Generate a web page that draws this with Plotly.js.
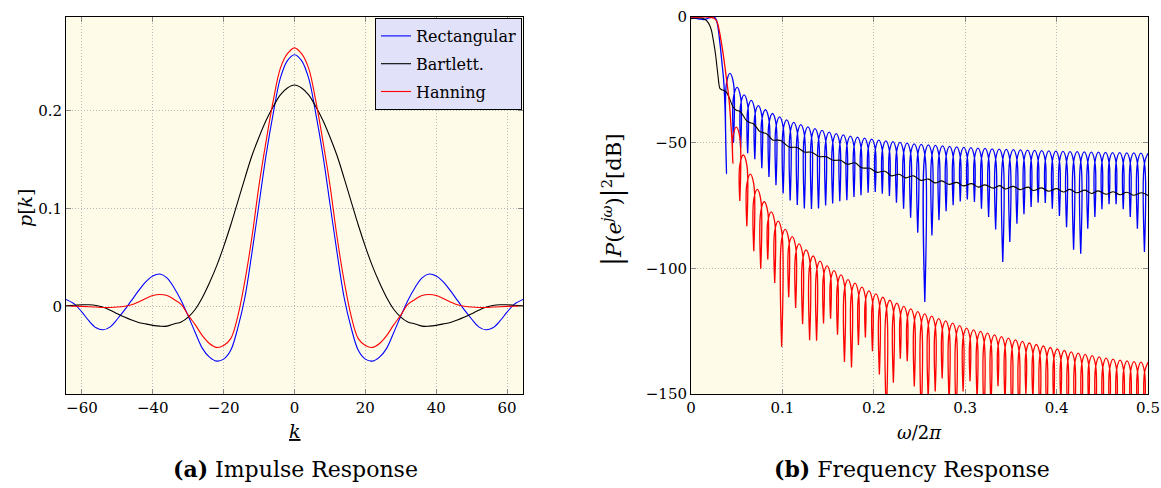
<!DOCTYPE html>
<html><head><meta charset="utf-8">
<script src="https://cdn.plot.ly/plotly-3.0.1.min.js"></script>
<style>html,body{margin:0;padding:0;background:#fff}</style>
</head><body><div id="chart" style="width:1161px;height:488px"></div>
<script>
// ---------- (a) impulse response ----------
const kVals = [-64.5,-62,-60,-58,-56,-54,-52,-50,-48,-46,-44,-42,-40,-38,-36,-34,-32,-30,-28,-26,-24,-22,-20,-18,-16,-14,-12,-10,-8,-6,-4,-2,0,2,4,6,8,10,12,14,16,18,20,22,24,26,28,30,32,34,36,38,40,42,44,46,48,50,52,54,56,58,60,62,64.5];
const rectP = [0.007,0.002,-0.006,-0.015,-0.022,-0.024,-0.021,-0.013,-0.004,0.006,0.016,0.025,0.031,0.033,0.029,0.019,0.006,-0.010,-0.027,-0.043,-0.052,-0.056,-0.054,-0.045,-0.022,0.009,0.055,0.105,0.155,0.197,0.233,0.251,
  0.257,0.251,0.233,0.197,0.155,0.105,0.055,0.009,-0.022,-0.045,-0.054,-0.056,-0.052,-0.043,-0.027,-0.010,0.006,0.019,0.029,0.033,0.031,0.025,0.016,0.006,-0.004,-0.013,-0.021,-0.024,-0.022,-0.015,-0.006,0.002,0.007];
const bartP = [0.0005,0.0011,0.0015,0.0015,0.0008,-0.001,-0.004,-0.0076,-0.011,-0.014,-0.0165,-0.018,-0.0195,-0.0203,-0.0203,-0.018,-0.016,-0.011,-0.003,0.009,0.024,0.041,0.061,0.083,0.107,0.131,0.154,0.173,0.190,0.204,0.216,0.223,
  0.226,0.223,0.216,0.204,0.190,0.173,0.154,0.131,0.107,0.083,0.061,0.041,0.024,0.009,-0.003,-0.011,-0.016,-0.018,-0.0203,-0.0203,-0.0195,-0.018,-0.0165,-0.014,-0.011,-0.0076,-0.004,-0.001,0.0008,0.0015,0.0015,0.0011,0.0005];
const hannP = [0.0,0.0,-0.0001,-0.0004,-0.0008,-0.0012,-0.0012,-0.0008,0.0,0.0015,0.0045,0.008,0.011,0.012,0.011,0.007,0.002,-0.009,-0.019,-0.030,-0.038,-0.042,-0.040,-0.033,-0.010,0.026,0.071,0.124,0.169,0.210,0.243,0.258,
  0.264,0.258,0.243,0.210,0.169,0.124,0.071,0.026,-0.010,-0.033,-0.040,-0.042,-0.038,-0.030,-0.019,-0.009,0.002,0.007,0.011,0.012,0.011,0.008,0.0045,0.0015,0.0,-0.0008,-0.0012,-0.0012,-0.0008,-0.0004,-0.0001,0.0,0.0];
const seriesNames = ['Rectangular','Bartlett.','Hanning'];

// ---------- (b) frequency response (dB) ----------
const rectPassW  = [0,0.004,0.009,0.014,0.018,0.022,0.025,0.027,0.0288,0.0317,0.0343,0.0357,0.0372];
const rectPassDb = [-0.5,-0.4,-0.8,-1.0,-0.6,-0.1,0.0,-0.6,-2.5,-10.5,-19.8,-25.0,-36.0];
const rectNullW = [0.0388,0.0465,0.0543,0.0620,0.0698,0.0775,0.0853,0.0930,0.1008,0.1085,
  0.1163,0.1240,0.1318,0.1395,0.1473,0.1550,0.1628,0.1705,0.1783,0.1860,
  0.1938,0.2016,0.2093,0.2171,0.2248,0.2326,0.2403,0.2481,0.2558,0.2636,
  0.2713,0.2791,0.2868,0.2946,0.3023,0.3101,0.3178,0.3256,0.3333,0.3411,
  0.3488,0.3566,0.3643,0.3721,0.3798,0.3876,0.3953,0.4031,0.4109,0.4186,
  0.4264,0.4341,0.4419,0.4496,0.4574,0.4651,0.4729,0.4806,0.4884,0.4961];
const rectNullDb = [-62.3,-50.0,-52.1,-54.2,-56.6,-60.2,-63.6,-66.9,-70.2,-73.0,
  -74.8,-76.2,-76.4,-76.2,-75.0,-74.2,-73.3,-72.9,-71.6,-70.9,
  -69.9,-69.6,-70.3,-71.2,-73.9,-76.3,-79.9,-85.8,-113.4,-86.9,
  -80.9,-77.3,-74.9,-73.4,-72.6,-73.6,-76.3,-79.6,-84.5,-97.5,
  -89.5,-82.2,-78.5,-75.6,-73.9,-74.0,-76.3,-79.2,-83.6,-92.6,
  -94.2,-84.2,-79.6,-76.5,-74.5,-74.5,-76.5,-79.6,-84.2,-93.5];
const rectPeakDb = [-22.4,-28.0,-31.0,-33.2,-35.3,-36.9,-38.4,-39.7,-40.9,-41.9,
  -42.8,-43.7,-44.4,-45.1,-45.8,-46.4,-46.9,-47.4,-47.8,-48.2,
  -48.6,-49.0,-49.3,-49.6,-49.9,-50.2,-50.5,-50.7,-50.9,-51.1,
  -51.3,-51.5,-51.7,-51.9,-52.0,-52.2,-52.3,-52.5,-52.6,-52.7,
  -52.8,-52.9,-53.0,-53.1,-53.2,-53.3,-53.4,-53.5,-53.6,-53.6,
  -53.7,-53.8,-53.8,-53.9,-54.0,-54.0,-54.1,-54.1,-54.2,-54.2];

const hannPassW  = [0,0.01,0.018,0.022,0.025,0.028,0.030,0.032,0.0345,0.037,0.0395,0.042,0.0438,0.0450];
const hannPassDb = [0.0,0.0,0.0,-0.1,-0.5,-1.5,-3.8,-7.5,-13.0,-19.5,-26.5,-34.4,-43.6,-50.5];
const hannNullW = [0.0458,0.0534,0.0611,0.0687,0.0763,0.0840,0.0916,0.0992,0.1069,0.1145,
  0.1221,0.1298,0.1374,0.1450,0.1527,0.1603,0.1679,0.1756,0.1832,0.1908,
  0.1985,0.2061,0.2137,0.2214,0.2290,0.2366,0.2443,0.2519,0.2595,0.2672,
  0.2748,0.2824,0.2901,0.2977,0.3053,0.3130,0.3206,0.3282,0.3359,0.3435,
  0.3511,0.3588,0.3664,0.3740,0.3817,0.3893,0.3969,0.4046,0.4122,0.4198,
  0.4275,0.4351,0.4427,0.4504,0.4580,0.4656,0.4733,0.4809,0.4885,0.4962];
const hannNullDb = [-58.2,-73.2,-83.2,-93.2,-100.2,-96.5,-105.8,-131.3,-111.5,-115.8,
  -122.2,-128.6,-128.8,-121.9,-120.0,-126.4,-137.3,-139.4,-130.5,-127.5,
  -133.0,-142.2,-160,-145.5,-136.0,-137.0,-147.0,-160,-152,-149,
  -143.8,-153,-160,-149,-144.9,-152,-160,-155,-146.9,-153,
  -160,-160,-150,-152,-160,-160,-155,-153,-160,-160,
  -160,-155,-160,-160,-160,-160,-160,-160,-160,-160];
const hannPeakDb = [-43.8,-54.9,-62.5,-68.6,-73.5,-77.5,-81.2,-84.5,-87.4,-90.3,
  -92.7,-95.1,-97.1,-99.0,-100.9,-102.6,-104.5,-105.9,-107.5,-109.0,
  -110.2,-111.5,-112.7,-113.9,-115.1,-116.1,-117.2,-118.1,-119.0,-120.0,
  -120.9,-121.8,-122.8,-123.8,-124.5,-125.1,-125.8,-126.5,-127.2,-127.8,
  -128.5,-129.1,-129.7,-130.3,-130.9,-131.5,-132.1,-132.7,-133.2,-133.7,
  -134.2,-134.7,-135.2,-135.7,-136.1,-136.5,-136.8,-137.1,-137.3,-137.4];

const bartW = [0,0.006,0.011,0.015,0.018,0.0204,0.0225,0.0241,0.0256,0.027,0.0283,0.0295,0.0305,0.0316,0.0335,0.0361,0.0387,0.0423,0.046,0.0496,
  0.0533,0.0569,0.0605,0.0642,0.0678,0.0715,0.0751,0.0788,0.0824,0.086,0.0897,0.0933,0.0988,0.1025,0.1080,0.1162,0.1240,0.1320,0.1400,0.1478,
  0.1556,0.1636,0.1710,0.1794,0.1867,0.1958,0.2031,0.2123,0.2195,0.2276,0.2349,0.2433,0.2517,0.2597,0.2670,0.2743,0.2823,0.2907,0.2980,0.3071,
  0.3144,0.3217,0.3308,0.3381,0.3435,0.3526,0.3599,0.3690,0.3745,0.3836,0.3909,0.4001,0.4073,0.4146,0.4219,0.4311,0.4383,0.4456,0.4540,0.4621,
  0.4694,0.4767,0.4840,0.4931,0.5];
const bartDb = [-0.7,-0.4,-0.4,-0.9,-1.8,-3.3,-5.5,-8.6,-11.8,-15.3,-19.5,-23.2,-26.5,-28.4,-28.9,-29.2,-29.9,-32.5,-35.8,-37.1,
  -37.5,-39.1,-41.1,-42.0,-42.4,-43.8,-45.5,-46.0,-46.4,-47.7,-49.0,-49.0,-49.2,-50.4,-51.8,-51.9,-53.7,-53.8,-55.5,-55.6,
  -57.0,-57.0,-58.6,-58.0,-60.0,-60.2,-61.8,-61.4,-63.2,-62.6,-64.0,-63.2,-65.0,-64.5,-66.0,-65.2,-66.6,-65.8,-67.2,-66.3,
  -67.7,-66.8,-68.1,-67.1,-68.4,-67.4,-68.7,-67.7,-69.0,-68.0,-69.3,-68.3,-69.6,-68.6,-69.9,-68.9,-70.2,-69.2,-70.5,-69.5,
  -70.7,-69.7,-70.9,-69.9,-71.0];

// ---------- drawing ----------
const FONT = 'DejaVu Serif';
const ARCH = 4;   // drawn height of the rounded lobe tops (style)
function lobes(passW, passDb, nullW, nullDb, peakDb, endW) {
  const x = passW.slice(), y = passDb.slice();
  for (let i = 0; i < nullW.length; i++) {
    const x0 = nullW[i];
    const xm = i + 1 < nullW.length ? (x0 + nullW[i + 1]) / 2 : endW;
    if (i > 0) { x.push(x0); y.push(peakDb[i - 1] - ARCH); }
    x.push(x0); y.push(nullDb[i]);
    x.push(x0); y.push(peakDb[i] - ARCH);
    x.push(xm); y.push(peakDb[i]);
  }
  return {x, y};
}
const colors = ['#0000ff', '#000000', '#ff0000'];
const traces = [];
[rectP, bartP, hannP].forEach((ys, i) => {
  traces.push({x: kVals, y: ys, type: 'scatter', mode: 'lines', name: seriesNames[i],
    legendgroup: 'g' + i, line: {color: colors[i], width: 1.1, shape: 'spline', smoothing: 1},
    xaxis: 'x', yaxis: 'y', hoverinfo: 'skip'});
});
const rl = lobes(rectPassW, rectPassDb, rectNullW, rectNullDb, rectPeakDb, 0.5);
traces.push({x: rl.x, y: rl.y, type: 'scatter', mode: 'lines', showlegend: false,
  line: {color: colors[0], width: 1.3, shape: 'spline', smoothing: 1}, xaxis: 'x2', yaxis: 'y2', hoverinfo: 'skip'});
traces.push({x: bartW, y: bartDb, type: 'scatter', mode: 'lines', showlegend: false,
  line: {color: colors[1], width: 1.1, shape: 'spline', smoothing: 1}, xaxis: 'x2', yaxis: 'y2', hoverinfo: 'skip'});
const hl = lobes(hannPassW, hannPassDb, hannNullW, hannNullDb, hannPeakDb, 0.5);
traces.push({x: hl.x, y: hl.y, type: 'scatter', mode: 'lines', showlegend: false,
  line: {color: colors[2], width: 1.3, shape: 'spline', smoothing: 1}, xaxis: 'x2', yaxis: 'y2', hoverinfo: 'skip'});

const W = 1161, H = 488;
const px = v => v / W, py = v => 1 - v / H;
const axBase = {showline: true, linecolor: '#000', linewidth: 1, mirror: 'ticks', ticks: 'inside',
  ticklen: 5, tickcolor: '#8a8a8a', tickwidth: 1, showgrid: true, gridcolor: '#b8b8b8',
  griddash: '1px,2px', gridwidth: 1, zeroline: false, fixedrange: true,
  tickfont: {family: FONT, size: 15, color: '#000'}};
const yDom = [py(394), py(17)];
const layout = {
  width: W, height: H, margin: {l: 0, r: 0, t: 0, b: 0},
  paper_bgcolor: '#ffffff', plot_bgcolor: '#fefbe9',
  xaxis: Object.assign({}, axBase, {domain: [px(66), px(523)], range: [-64.5, 64.5], tick0: 0, dtick: 20, anchor: 'y'}),
  yaxis: Object.assign({}, axBase, {domain: yDom, range: [-0.0896, 0.2955], tick0: 0, dtick: 0.1, anchor: 'x'}),
  xaxis2: Object.assign({}, axBase, {domain: [px(691), px(1148)], range: [0, 0.5], tick0: 0, dtick: 0.1, anchor: 'y2'}),
  yaxis2: Object.assign({}, axBase, {domain: yDom, range: [-150, 0], tick0: 0, dtick: 50, anchor: 'x2'}),
  showlegend: true,
  legend: {x: px(522), xanchor: 'right', y: py(18), yanchor: 'top', bgcolor: '#e1e1f9',
    bordercolor: '#000', borderwidth: 1, font: {family: FONT, size: 16, color: '#000'},
    tracegroupgap: 4, itemwidth: 30},
  annotations: [
    {text: '<u><i>k</i></u>', x: px(295), y: py(431), xref: 'paper', yref: 'paper', showarrow: false,
      xanchor: 'center', yanchor: 'middle', font: {family: FONT, size: 19, color: '#000'}},
    {text: '<i>ω</i>/2<i>π</i>', x: px(919), y: py(432), xref: 'paper', yref: 'paper', showarrow: false,
      xanchor: 'center', yanchor: 'middle', font: {family: FONT, size: 18, color: '#000'}},
    {text: '<i>p</i>[<i>k</i>]', x: px(25), y: py(208), xref: 'paper', yref: 'paper', showarrow: false,
      textangle: -90, xanchor: 'center', yanchor: 'middle', font: {family: FONT, size: 19, color: '#000'}},
    {text: '<span style="font-size:27px">|</span><i>P</i>(<i>e</i><sup><i>jω</i></sup>)<span style="font-size:27px">|</span><sup>2</sup>[dB]',
      x: px(612), y: py(200), xref: 'paper', yref: 'paper', showarrow: false,
      textangle: -90, xanchor: 'center', yanchor: 'middle', font: {family: FONT, size: 21, color: '#000'}},
    {text: '<b>(a)</b> Impulse Response', x: px(295), y: py(469), xref: 'paper', yref: 'paper', showarrow: false,
      xanchor: 'center', yanchor: 'middle', font: {family: FONT, size: 22, color: '#000'}},
    {text: '<b>(b)</b> Frequency Response', x: px(912), y: py(469), xref: 'paper', yref: 'paper', showarrow: false,
      xanchor: 'center', yanchor: 'middle', font: {family: FONT, size: 22, color: '#000'}}
  ]
};
Plotly.newPlot('chart', traces, layout, {staticPlot: true, displayModeBar: false});
</script>
</body></html>
